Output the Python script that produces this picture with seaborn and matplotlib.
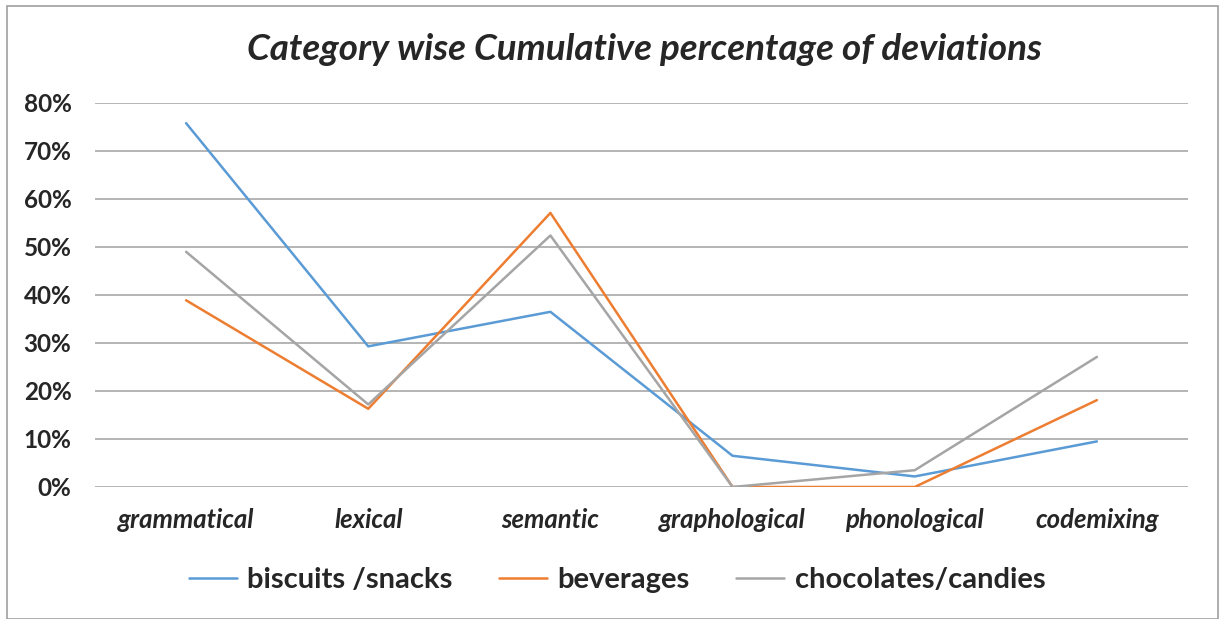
import matplotlib
matplotlib.use("Agg")
import matplotlib.pyplot as plt
import seaborn as sns
import pandas as pd
from matplotlib.patches import Rectangle
from matplotlib.ticker import PercentFormatter

categories = ["grammatical", "lexical", "semantic", "graphological", "phonological", "codemixing"]
biscuits = [0.758, 0.293, 0.365, 0.065, 0.022, 0.095]
beverages = [0.389, 0.163, 0.571, 0.0, 0.0, 0.181]
chocolates = [0.490, 0.172, 0.524, 0.0, 0.035, 0.271]
series_names = ["biscuits /snacks", "beverages", "chocolates/candies"]
colors = ["#5B9BD5", "#ED7D31", "#A5A5A5"]
y_ticks = [0, 0.1, 0.2, 0.3, 0.4, 0.5, 0.6, 0.7, 0.8]

rows = []
for name, vals in zip(series_names, [biscuits, beverages, chocolates]):
    for c, v in zip(categories, vals):
        rows.append({"category": c, "value": v, "series": name})
df = pd.DataFrame(rows)

sns.set_style("white")
plt.rcParams["font.family"] = ["Lato", "DejaVu Sans"]

fig = plt.figure(figsize=(12.22, 6.19), dpi=100)
ax = fig.add_axes([95/1222, 132/619, (1188-95)/1222, (516-132)/619])

sns.lineplot(data=df, x="category", y="value", hue="series", hue_order=series_names,
             palette=colors, linewidth=1.8, ax=ax, sort=False)

ax.set_xlim(-0.5, 5.5)
ax.set_ylim(0, 0.8)
ax.set_yticks(y_ticks)
ax.yaxis.set_major_formatter(PercentFormatter(1.0, decimals=0))
ax.grid(axis="y", color="#A0A0A0", linewidth=1.1)
ax.set_axisbelow(True)
for s in ax.spines.values():
    s.set_visible(False)
ax.tick_params(axis="both", length=0)
ax.tick_params(axis="y", pad=17, labelsize=17.5)
ax.tick_params(axis="x", pad=15, labelsize=18.5)
for lbl in ax.get_yticklabels():
    lbl.set_fontweight("bold")
for lbl in ax.get_xticklabels():
    lbl.set_fontweight("bold")
    lbl.set_fontstyle("italic")
ax.set_xlabel("")
ax.set_ylabel("")

fig.text(644/1222, 1 - 50/619, "Category wise Cumulative percentage of deviations",
         ha="center", va="center", fontsize=26.5, fontweight="bold", fontstyle="italic")

handles, labels = ax.get_legend_handles_labels()
if ax.legend_:
    ax.legend_.remove()
leg = fig.legend(handles, labels, loc="center", bbox_to_anchor=(617/1222, 1 - 580/619),
                 ncol=3, frameon=False, fontsize=21, handlelength=1.65, handletextpad=0.35,
                 columnspacing=1.6)
for t in leg.get_texts():
    t.set_fontweight("bold")
for l in leg.get_lines():
    l.set_linewidth(1.8)

fig.patches.append(Rectangle((7/1222, 0), (1218-7)/1222, 1 - 6/619, transform=fig.transFigure,
                             fill=False, edgecolor="#A0A0A0", linewidth=1.2))

fig.savefig("out.png", dpi=100)
